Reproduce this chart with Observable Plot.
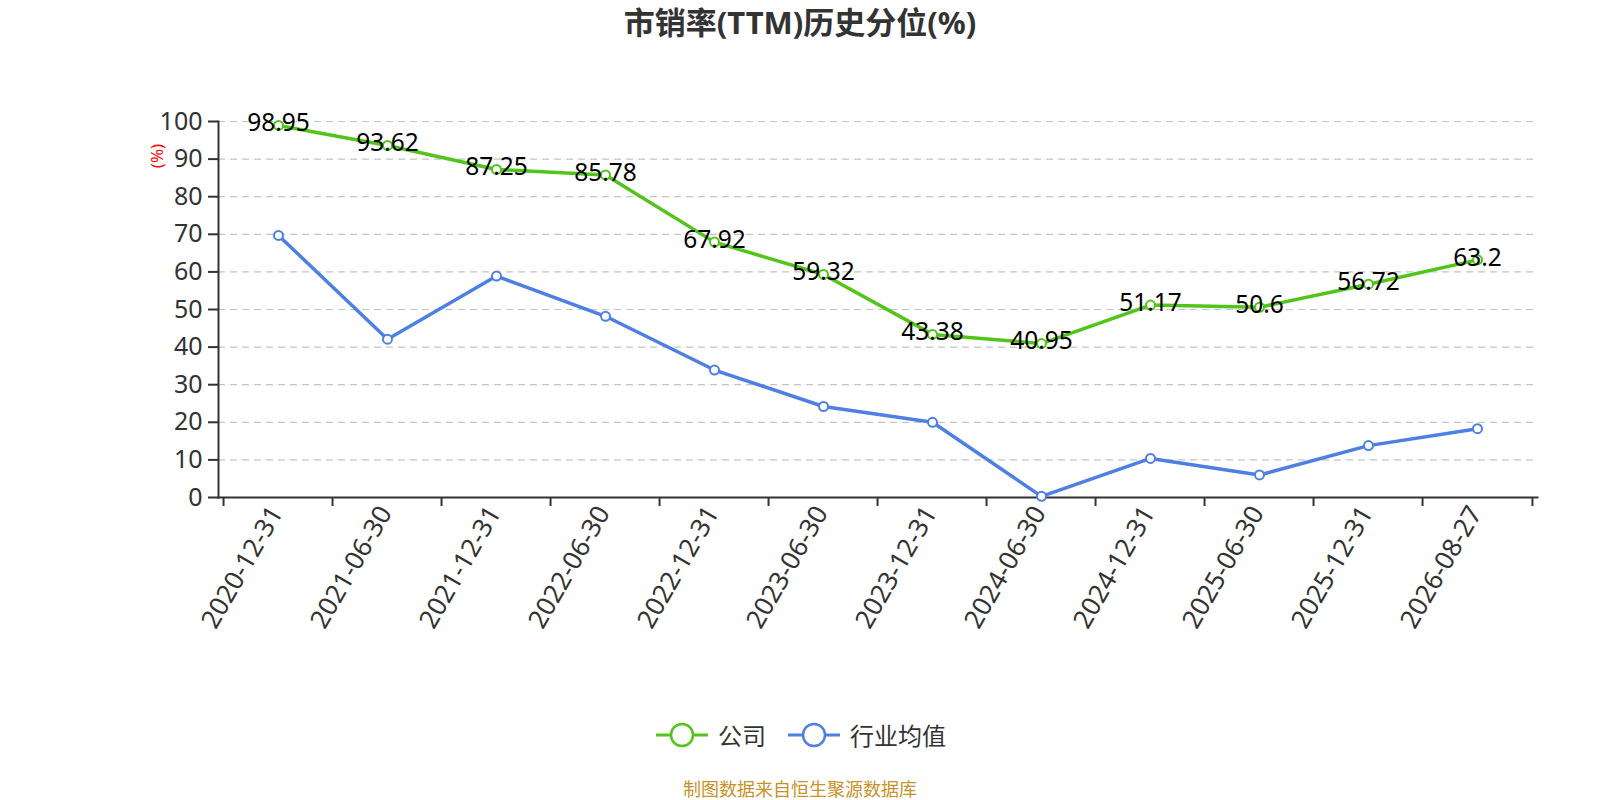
<!DOCTYPE html>
<html><head><meta charset="utf-8">
<script src="https://cdn.jsdelivr.net/npm/d3@7"></script>
<script src="https://cdn.jsdelivr.net/npm/@observablehq/plot@0.6"></script>
<style>
body{margin:0;background:#fff;font-family:"Noto Sans","Noto Sans CJK SC",sans-serif;}
#wrap{position:relative;width:1600px;height:800px;overflow:hidden;background:#fff;}
#chart{position:absolute;top:0;left:0;}
#title{position:absolute;top:1px;left:0;width:1600px;text-align:center;font-size:31px;line-height:43px;font-weight:bold;color:#333;z-index:2;font-family:"Noto Sans","Noto Sans CJK SC",sans-serif;}
#ylab{position:absolute;left:157px;top:156px;color:#f00;font-size:17px;line-height:20px;transform:translate(-50%,-50%) rotate(-90deg);white-space:nowrap;z-index:2;}
#legend{position:absolute;top:718px;left:656px;height:34px;display:flex;align-items:center;font-size:24px;line-height:34px;color:#333;z-index:2;font-family:"Noto Sans CJK SC",sans-serif;}
#legend .txt{margin-left:10px;margin-right:22px;}
#source{position:absolute;top:778px;left:0;width:1600px;text-align:center;font-size:18px;line-height:20px;color:#c8912a;z-index:2;font-family:"Noto Sans CJK SC",sans-serif;}
</style></head>
<body>
<div id="wrap">
  <div id="title">市销率(TTM)历史分位(%)</div>
  <div id="chart"></div>
  <div id="ylab">(%)</div>
  <div id="legend"></div>
  <div id="source">制图数据来自恒生聚源数据库</div>
</div>
<script>
const dates = ["2020-12-31","2021-06-30","2021-12-31","2022-06-30","2022-12-31","2023-06-30","2023-12-31","2024-06-30","2024-12-31","2025-06-30","2025-12-31","2026-08-27"];
const company = [98.95,93.62,87.25,85.78,67.92,59.32,43.38,40.95,51.17,50.6,56.72,63.2];
const industry = [69.7,42.1,58.9,48.2,33.9,24.2,20.0,0.3,10.4,6.0,13.8,18.3];
const yTicks = [0,10,20,30,40,50,60,70,80,90,100];
const seriesNames = ["公司","行业均值"];
const colors = ["#52c41a","#4e7fe2"];

const W = 1600, H = 660, ML = 218, MR = 63, MT = 121, MB = 163;
const half = (W - ML - MR) / dates.length / 2;

const rowsC = dates.map((d, i) => ({date: d, value: company[i]}));
const rowsI = dates.map((d, i) => ({date: d, value: industry[i]}));

const chart = Plot.plot({
  width: W, height: H,
  marginLeft: ML, marginRight: MR, marginTop: MT, marginBottom: MB,
  style: {fontFamily: '"Noto Sans","Noto Sans CJK SC",sans-serif', background: "#fff", overflow: "visible"},
  x: {type: "point", domain: dates, padding: 0.5, label: null},
  y: {domain: [0, 100], label: null},
  marks: [
    Plot.gridY(yTicks, {stroke: "#c4c4c4", strokeOpacity: 1, strokeDasharray: "7,5", strokeWidth: 1.2}),
    Plot.axisY(yTicks, {tickSize: 10, tickPadding: 6, fontSize: 25, fill: "#333", stroke: "#333", strokeWidth: 2, label: null}),
    Plot.axisX(dates, {tickSize: 9, tickFormat: () => "", dx: -half, stroke: "#333", strokeWidth: 2, label: null}),
    Plot.axisX([dates[dates.length - 1]], {tickSize: 9, tickFormat: () => "", dx: half, stroke: "#333", strokeWidth: 2, label: null}),
    Plot.axisX(dates, {tickSize: 0, tickPadding: 11, dx: -2, tickRotate: -60, fontSize: 26, fill: "#333", label: null}),
    Plot.frame({anchor: "left", stroke: "#333", strokeWidth: 2}),
    Plot.frame({anchor: "bottom", stroke: "#333", strokeWidth: 2}),
    Plot.lineY(rowsI, {x: "date", y: "value", stroke: colors[1], strokeWidth: 3.5}),
    Plot.dot(rowsI, {x: "date", y: "value", r: 4.5, fill: "#fff", stroke: colors[1], strokeWidth: 2}),
    Plot.lineY(rowsC, {x: "date", y: "value", stroke: colors[0], strokeWidth: 3.5}),
    Plot.dot(rowsC, {x: "date", y: "value", r: 4.5, fill: "#fff", stroke: colors[0], strokeWidth: 2}),
    Plot.text(rowsC, {x: "date", y: "value", text: d => String(d.value), fontSize: 24.5, fill: "#000", dy: -2})
  ]
});
document.getElementById("chart").appendChild(chart);

const legend = document.getElementById("legend");
seriesNames.forEach((name, i) => {
  const ns = "http://www.w3.org/2000/svg";
  const svg = document.createElementNS(ns, "svg");
  svg.setAttribute("width", 52); svg.setAttribute("height", 28);
  const line = document.createElementNS(ns, "line");
  line.setAttribute("x1", 0); line.setAttribute("x2", 52); line.setAttribute("y1", 14); line.setAttribute("y2", 14);
  line.setAttribute("stroke", colors[i]); line.setAttribute("stroke-width", 3);
  const c = document.createElementNS(ns, "circle");
  c.setAttribute("cx", 26); c.setAttribute("cy", 14); c.setAttribute("r", 11);
  c.setAttribute("fill", "#fff"); c.setAttribute("stroke", colors[i]); c.setAttribute("stroke-width", 2.5);
  svg.appendChild(line); svg.appendChild(c);
  const t = document.createElement("span");
  t.className = "txt"; t.textContent = name;
  legend.appendChild(svg); legend.appendChild(t);
});
</script>
</body></html>
